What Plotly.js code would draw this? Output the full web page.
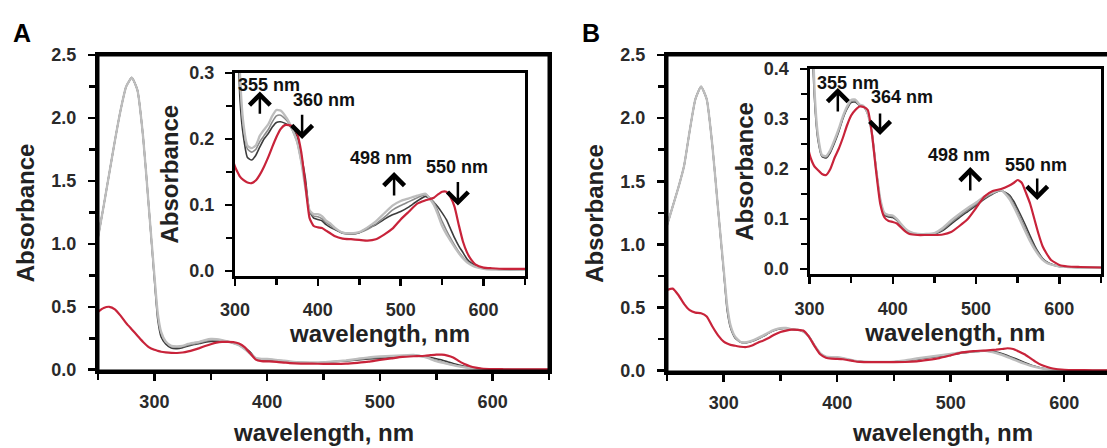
<!DOCTYPE html>
<html>
<head>
<meta charset="utf-8">
<script src="https://cdn.plot.ly/plotly-3.0.1.min.js"></script>
<style>html,body{margin:0;padding:0;background:#fff;}#chart{width:1107px;height:448px;}</style>
</head>
<body>
<div id="chart"></div>
<script>
// ---------- data ----------
const wavelength = [250,255,260,265,270,275,280,285,290,295,300,303,306,
  310,315,320,325,330,335,340,345,350,355,360,365,370,375,380,385,390,395,400,405,410,415,420,
  430,440,450,460,470,480,490,500,510,520,530,540,
  545,550,555,560,565,570,575,580,585,590,600,610,625,650];

// Panel A
const lightGrayA = [1.05,1.30,1.56,1.82,2.06,2.25,2.32,2.22,1.85,1.30,0.75,0.45,0.30,
  0.225,0.19,0.186,0.19,0.205,0.214,0.222,0.235,0.244,0.243,0.236,0.226,0.212,0.195,0.165,0.125,0.092,0.086,0.086,0.083,0.076,0.072,0.066,
  0.058,0.057,0.059,0.066,0.075,0.087,0.099,0.106,0.110,0.114,0.117,0.100,
  0.085,0.068,0.056,0.046,0.036,0.027,0.019,0.013,0.009,0.006,0.003,0.002,0.002,0.002];
const midGrayA = [1.05,1.30,1.56,1.82,2.06,2.25,2.32,2.22,1.85,1.30,0.74,0.43,0.29,
  0.22,0.185,0.18,0.184,0.196,0.205,0.214,0.226,0.235,0.236,0.231,0.224,0.211,0.195,0.165,0.13,0.09,0.083,0.082,0.079,0.073,0.069,0.064,
  0.058,0.057,0.058,0.063,0.071,0.081,0.092,0.099,0.105,0.111,0.116,0.104,
  0.090,0.075,0.062,0.050,0.039,0.029,0.021,0.014,0.010,0.007,0.004,0.003,0.002,0.002];
const darkGrayA = [1.05,1.30,1.56,1.82,2.06,2.25,2.32,2.22,1.85,1.30,0.72,0.40,0.26,
  0.205,0.172,0.168,0.175,0.188,0.200,0.208,0.218,0.225,0.226,0.224,0.221,0.214,0.204,0.175,0.14,0.09,0.08,0.078,0.076,0.070,0.066,0.063,
  0.057,0.056,0.058,0.065,0.070,0.078,0.085,0.090,0.097,0.106,0.113,0.104,
  0.097,0.088,0.078,0.064,0.050,0.038,0.028,0.018,0.012,0.008,0.004,0.003,0.002,0.002];
const redA = [0.46,0.49,0.50,0.48,0.43,0.37,0.32,0.27,0.22,0.18,0.158,0.150,0.143,
  0.138,0.134,0.133,0.137,0.146,0.158,0.172,0.188,0.203,0.215,0.221,0.221,0.219,0.208,0.180,0.13,0.08,0.068,0.066,0.065,0.061,0.057,0.053,
  0.049,0.048,0.047,0.046,0.048,0.055,0.064,0.078,0.090,0.102,0.107,0.111,
  0.116,0.120,0.120,0.112,0.097,0.070,0.045,0.028,0.017,0.010,0.005,0.004,0.003,0.003];

// Panel B
const lightGrayB = [1.15,1.30,1.45,1.62,1.90,2.15,2.25,2.15,1.78,1.28,0.80,0.52,0.36,
  0.27,0.228,0.226,0.238,0.258,0.28,0.305,0.325,0.338,0.339,0.329,0.326,0.31,0.27,0.2,0.14,0.112,0.108,0.107,0.1,0.09,0.081,0.075,
  0.07,0.07,0.072,0.082,0.097,0.11,0.122,0.133,0.145,0.153,0.158,0.14,
  0.125,0.108,0.09,0.072,0.055,0.04,0.028,0.018,0.012,0.009,0.005,0.004,0.003,0.003];
const midGrayB = [1.15,1.30,1.45,1.62,1.90,2.15,2.25,2.15,1.78,1.28,0.79,0.50,0.35,
  0.265,0.226,0.224,0.236,0.255,0.277,0.302,0.322,0.335,0.336,0.328,0.325,0.31,0.272,0.2,0.138,0.11,0.106,0.105,0.098,0.088,0.079,0.073,
  0.069,0.069,0.071,0.079,0.093,0.106,0.118,0.13,0.142,0.151,0.157,0.145,
  0.13,0.114,0.097,0.078,0.06,0.044,0.031,0.02,0.013,0.009,0.005,0.004,0.003,0.003];
const darkGrayB = [1.15,1.30,1.45,1.62,1.90,2.15,2.25,2.15,1.78,1.28,0.78,0.48,0.34,
  0.26,0.225,0.222,0.233,0.252,0.274,0.3,0.32,0.333,0.334,0.327,0.324,0.31,0.272,0.2,0.136,0.108,0.104,0.103,0.097,0.087,0.078,0.072,
  0.069,0.069,0.07,0.077,0.09,0.103,0.115,0.127,0.14,0.15,0.157,0.148,
  0.136,0.12,0.103,0.085,0.066,0.048,0.033,0.021,0.014,0.01,0.005,0.004,0.003,0.003];
const redB = [0.64,0.65,0.60,0.53,0.48,0.46,0.455,0.43,0.35,0.28,0.23,0.215,0.205,
  0.198,0.19,0.188,0.2,0.222,0.24,0.262,0.287,0.307,0.318,0.325,0.324,0.318,0.27,0.195,0.13,0.103,0.096,0.094,0.091,0.083,0.075,0.07,
  0.068,0.068,0.068,0.069,0.074,0.086,0.1,0.122,0.145,0.156,0.16,0.167,
  0.172,0.178,0.172,0.152,0.13,0.1,0.07,0.045,0.03,0.018,0.008,0.005,0.004,0.003];

const panelLabels = ['A', 'B'];
const arrowLabelsA = ['355 nm', '360 nm', '498 nm', '550 nm'];
const arrowLabelsB = ['355 nm', '364 nm', '498 nm', '550 nm'];
const yTitle = 'Absorbance';
const xTitle = 'wavelength, nm';

// ---------- build ----------
const W = 1107, H = 448;
const fx = p => p / W;
const fy = p => 1 - p / H;
const FONT = 'Liberation Sans, Arial, sans-serif';

const seriesStyle = [
  {color: '#3c3c3c', width: 1.6},
  {color: '#8a8a8a', width: 1.6},
  {color: '#bdbdbd', width: 2.3},
  {color: '#c8233a', width: 2.2}
];
const panels = [
  {series: [darkGrayA, midGrayA, lightGrayA, redA], main: ['x', 'y'], inset: ['x2', 'y2']},
  {series: [darkGrayB, midGrayB, lightGrayB, redB], main: ['x3', 'y3'], inset: ['x4', 'y4']}
];
const traces = [];
panels.forEach(p => {
  [p.main, p.inset].forEach(ax => {
    p.series.forEach((vals, i) => {
      traces.push({
        x: wavelength, y: vals, xaxis: ax[0], yaxis: ax[1],
        type: 'scatter', mode: 'lines', showlegend: false, hoverinfo: 'skip',
        line: {color: seriesStyle[i].color, width: seriesStyle[i].width, shape: 'spline', smoothing: 0.5}
      });
    });
  });
});

function tickFont(size) { return {family: FONT, size: size, color: '#2a2a2a', weight: 700}; }
function titleFont() { return {family: FONT, size: 24, color: '#222', weight: 700}; }

function xAxis(domain, range, anchor, opts) {
  return Object.assign({
    domain: domain, range: range, anchor: anchor,
    showline: true, linewidth: 3, linecolor: '#000', mirror: true,
    ticks: 'outside', ticklen: 7, tickwidth: 2.5, tickcolor: '#000',
    tick0: 300, dtick: 100,
    minor: {dtick: 50, tick0: 250, ticks: 'outside', ticklen: 6, tickwidth: 2.5, tickcolor: '#000', showgrid: false},
    tickfont: tickFont(18), ticklabelstandoff: 5,
    showgrid: false, zeroline: false, fixedrange: true
  }, opts || {});
}
function yAxis(domain, range, anchor, dtick, opts) {
  return Object.assign({
    domain: domain, range: range, anchor: anchor,
    showline: true, linewidth: 3, linecolor: '#000', mirror: true,
    ticks: 'outside', ticklen: 7, tickwidth: 2.5, tickcolor: '#000',
    tick0: 0, dtick: dtick, tickformat: '.1f',
    minor: {dtick: dtick / 2, tick0: 0, ticks: 'outside', ticklen: 6, tickwidth: 2.5, tickcolor: '#000', showgrid: false},
    tickfont: tickFont(18), ticklabelstandoff: 8,
    showgrid: false, zeroline: false, fixedrange: true
  }, opts || {});
}

const frameA = {l: 98, r: 549, t: 55, b: 371};
const frameB = {l: 667, r: W, t: 55, b: 372};

const layout = {
  width: W, height: H,
  margin: {l: 0, r: 0, t: 0, b: 0},
  paper_bgcolor: '#fff', plot_bgcolor: 'rgba(0,0,0,0)',
  font: {family: FONT},
  xaxis: xAxis([fx(frameA.l), fx(frameA.r)], [250, 650], 'y', {}),
  yaxis: yAxis([fy(frameA.b), fy(frameA.t)], [-0.01, 2.5], 'x', 0.5, {title: {text: yTitle, font: titleFont(), standoff: 10}}),
  xaxis2: xAxis([fx(235), fx(525)], [300, 650], 'y2', {ticklabelstandoff: 9, title: {text: xTitle, font: titleFont(), standoff: 3}}),
  yaxis2: yAxis([fy(275.5), fy(73)], [-0.007, 0.3], 'x2', 0.1, {ticklabelstandoff: 7, title: {text: yTitle, font: titleFont(), standoff: 4}}),
  xaxis3: xAxis([fx(frameB.l), 1], [250, 637.7], 'y3', {}),
  yaxis3: yAxis([fy(frameB.b), fy(frameB.t)], [-0.01, 2.5], 'x3', 0.5, {mirror: false, title: {text: yTitle, font: titleFont(), standoff: 10}}),
  xaxis4: xAxis([fx(809.5), fx(1101)], [300, 650], 'y4', {ticklabelstandoff: 9, title: {text: xTitle, font: titleFont(), standoff: 3}}),
  yaxis4: yAxis([fy(274), fy(69)], [-0.01, 0.4], 'x4', 0.1, {ticklabelstandoff: 7, title: {text: yTitle, font: titleFont(), standoff: 4}}),
  shapes: [
    {type: 'rect', xref: 'paper', yref: 'paper', x0: fx(235), x1: fx(525), y0: fy(275.5), y1: fy(73), fillcolor: '#fff', line: {width: 0}, layer: 'below'},
    {type: 'rect', xref: 'paper', yref: 'paper', x0: fx(809.5), x1: fx(1101), y0: fy(274), y1: fy(69), fillcolor: '#fff', line: {width: 0}, layer: 'below'},
    {type: 'rect', xref: 'paper', yref: 'paper', x0: fx(frameA.l), x1: fx(frameA.r), y0: fy(frameA.b), y1: fy(frameA.t), line: {color: '#000', width: 3}, fillcolor: 'rgba(0,0,0,0)', layer: 'above'},
    {type: 'path', xref: 'paper', yref: 'paper', path: 'M' + fx(W) + ',' + fy(frameB.t) + ' L' + fx(frameB.l) + ',' + fy(frameB.t) + ' L' + fx(frameB.l) + ',' + fy(frameB.b) + ' L' + fx(W) + ',' + fy(frameB.b), line: {color: '#000', width: 3}, layer: 'above'}
  ],
  annotations: []
};

const ann = layout.annotations;
function paperText(xp, yp, t, font) {
  return {xref: 'paper', yref: 'paper', x: fx(xp), y: fy(yp), xanchor: 'center', yanchor: 'middle', text: t, showarrow: false, font: font};
}
const letterFont = {family: FONT, size: 25, color: '#000', weight: 700};
ann.push(paperText(22, 33, panelLabels[0], letterFont));
ann.push(paperText(591, 33, panelLabels[1], letterFont));
// main x-axis titles (panel B is cropped on the right in the reference)
ann.push(paperText(323.5, 432, xTitle, titleFont()));
ann.push(paperText(942, 432, xTitle, titleFont()));

function arrow(xr, yr, x, yTail, yHead) {
  return {xref: xr, yref: yr, axref: xr, ayref: yr, x: x, y: yHead, ax: x, ay: yTail, text: '',
    showarrow: true, arrowhead: 4, arrowsize: 1.6, arrowwidth: 2.5, arrowcolor: '#000', standoff: 0, startstandoff: 0};
}
function label(xr, yr, x, y, t) {
  return {xref: xr, yref: yr, x: x, y: y, xanchor: 'center', yanchor: 'middle', text: t, showarrow: false, font: {family: FONT, size: 18, color: '#111', weight: 700}};
}
ann.push(label('x2', 'y2', 341.6, 0.282, arrowLabelsA[0]));
ann.push(arrow('x2', 'y2', 330, 0.236, 0.272));
ann.push(label('x2', 'y2', 408, 0.259, arrowLabelsA[1]));
ann.push(arrow('x2', 'y2', 381, 0.239, 0.200));
ann.push(label('x2', 'y2', 475.6, 0.171, arrowLabelsA[2]));
ann.push(arrow('x2', 'y2', 492, 0.112, 0.150));
ann.push(label('x2', 'y2', 568.5, 0.157, arrowLabelsA[3]));
ann.push(arrow('x2', 'y2', 569, 0.137, 0.099));
ann.push(label('x4', 'y4', 345.7, 0.372, arrowLabelsB[0]));
ann.push(arrow('x4', 'y4', 334, 0.312, 0.362));
ann.push(label('x4', 'y4', 410.6, 0.344, arrowLabelsB[1]));
ann.push(arrow('x4', 'y4', 384.7, 0.314, 0.268));
ann.push(label('x4', 'y4', 479.7, 0.228, arrowLabelsB[2]));
ann.push(arrow('x4', 'y4', 493, 0.154, 0.204));
ann.push(label('x4', 'y4', 571.6, 0.208, arrowLabelsB[3]));
ann.push(arrow('x4', 'y4', 573.4, 0.184, 0.138));

Plotly.newPlot('chart', traces, layout, {staticPlot: true, displayModeBar: false});
</script>
</body>
</html>
